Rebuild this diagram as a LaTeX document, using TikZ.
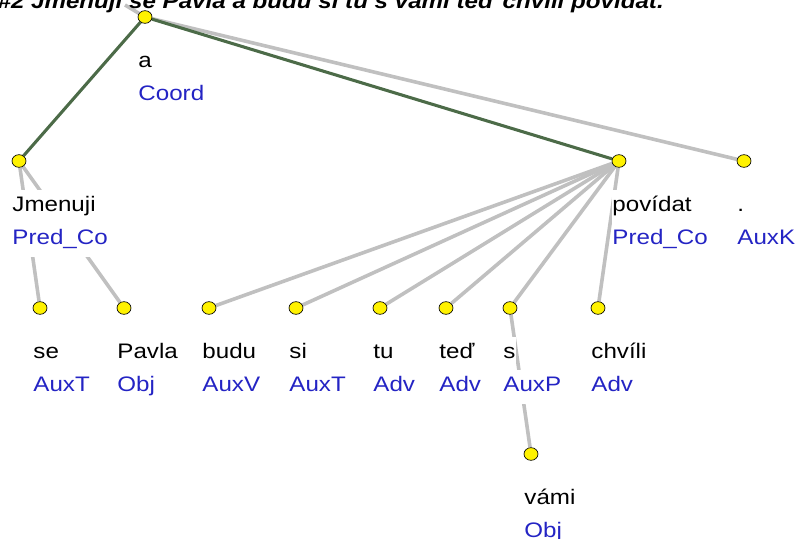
\documentclass[tikz,border=0pt]{standalone}
\usepackage{fontspec}
\setmainfont[FakeStretch=1.15]{Liberation Sans}
\usetikzlibrary{shapes.geometric,backgrounds}
\definecolor{edgegrey}{RGB}{192,192,192}
\definecolor{coordgreen}{RGB}{76,107,72}
\definecolor{afunblue}{RGB}{36,36,196}

\begin{document}
\begin{tikzpicture}[x=0.75pt,y=-0.75pt]
  \tikzstyle{every node}=[font=\fontsize{15.75}{18}\selectfont]
  \tikzstyle{tok}=[ellipse,draw=black,fill=yellow,line width=0.5pt,minimum width=10.5pt,minimum height=9.5pt,inner sep=0pt]
  \tikzstyle{wform}=[anchor=base west,fill=white,inner xsep=0.5pt,inner ysep=5pt,text height=11pt,text depth=5pt]
  \tikzstyle{afun}=[wform,text=afunblue]
  \tikzstyle{dep}=[edgegrey,line width=2.7pt]
  \tikzstyle{member}=[coordgreen,line width=2.3pt]
  \useasboundingbox (0,0) rectangle (800,539);
  \clip (0,0) rectangle (800,539);
  \node [anchor=base east,inner sep=0pt,font=\fontsize{15.75}{18}\selectfont\bfseries\itshape] (title) at (664,8)
    {\#2 Jmenuji se Pavla a budu si tu s vámi teď chvíli povídat.};
  \foreach \n/\x/\y/\w/\f in {a/145/17/a/Coord, jmenuji/19/161/Jmenuji/Pred\_Co,
      povidat/619/161/povídat/Pred\_Co, dot/744/161/./AuxK,
      se/40/308/se/AuxT, pavla/124/308/Pavla/Obj, budu/209/308/budu/AuxV,
      si/296/308/si/AuxT, tu/380/308/tu/Adv, ted/446/308/teď/Adv,
      s/510/308/s/AuxP, chvili/598/308/chvíli/Adv, vami/531/454/vámi/Obj} {
    \node [tok] (\n) at (\x,\y) {};
    \node [wform] (\n-w) at (\x-7.5,\y+50) {\w};
    \node [afun] (\n-f) at (\x-7.5,\y+83) {\f};
  }
  \coordinate (root) at (125,5);
  \begin{scope}[on background layer]
    \draw [dep] (a) -- (root);
    \draw [dep] (a) -- (dot);
    \draw [member] (a) -- (jmenuji);
    \draw [member] (a) -- (povidat);
    \draw [dep] (jmenuji) -- (se);
    \draw [dep] (jmenuji) -- (pavla);
    \foreach \t in {budu,si,tu,ted,s,chvili}
      \draw [dep] (povidat) -- (\t);
    \draw [dep] (s) -- (vami);
  \end{scope}
\end{tikzpicture}
\end{document}
